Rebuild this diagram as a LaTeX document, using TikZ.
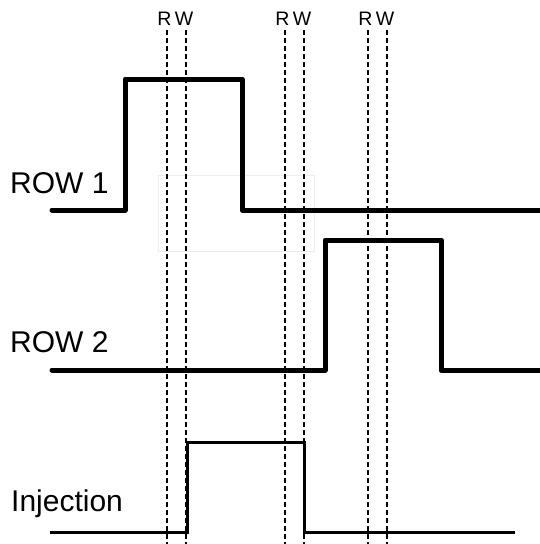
\documentclass[tikz,border=0pt]{standalone}
\usepackage{fontspec}
\setmainfont{Liberation Sans}
\begin{document}
\begin{tikzpicture}[x=1pt,y=-1pt,
  sig/.style={line width=5pt,line join=round,line cap=round},
  inj/.style={line width=3pt,line join=miter},
  mark line/.style={line width=1.2pt,dash pattern=on 5pt off 3pt},
  biglabel/.style={anchor=base west,inner sep=0pt,font=\fontsize{30}{30}\selectfont},
  rwlabel/.style={anchor=base,inner sep=0pt,font=\fontsize{19.5}{19.5}\selectfont}]
\useasboundingbox[fill=white] (0,0) rectangle (539,544);
% faint box
\draw[line width=0.6pt,black!7] (158,175) rectangle (314,251);
% dashed marks
\foreach \nm/\x in {r1/167,w1/186,r2/285,w2/304,r3/368,w3/387}{
  \coordinate (\nm top) at (\x,30);
  \coordinate (\nm bot) at (\x,544);
  \draw[mark line] (\nm top) -- (\nm bot);
}
\foreach \nm/\x in {1/167,2/285,3/368}{
  \node[rwlabel] (R\nm) at (\x-2.5,25.5) {R};
  \node[rwlabel] (W\nm) at (\x+17,25.5) {W};
}
% labels
\node[biglabel] (row1) at (10,193) {ROW 1};
\node[biglabel] (row2) at (10,352) {ROW 2};
\node[biglabel] (injl) at (11,511) {Injection};
% ROW 1
\draw[sig] (52,210) -- (125,210) -- (125,79) -- (242,79) -- (242,210) -- (541,210);
% ROW 2
\draw[sig] (52,370) -- (325,370) -- (325,240) -- (441,240) -- (441,370) -- (541,370);
% Injection
\draw[inj] (50,532) -- (187,532) -- (187,442) -- (304,442) -- (304,532) -- (515,532);
\end{tikzpicture}
\end{document}
